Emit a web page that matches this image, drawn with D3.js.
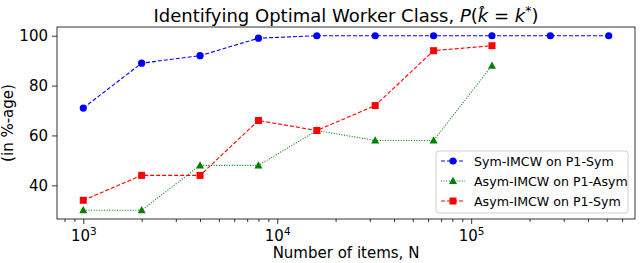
<!DOCTYPE html>
<html>
<head>
<meta charset="utf-8">
<script src="https://cdn.jsdelivr.net/npm/d3@7"></script>
<style>
  body { margin: 0; background: #fff; }
  text { font-family: "DejaVu Sans", sans-serif; fill: #000; }
</style>
</head>
<body>
<div class="chart"></div>
<script>
// number of items N (powers of two from 1000)
const items = [1000, 2000, 4000, 8000, 16000, 32000, 64000, 128000, 256000, 512000]
// P(k-hat = k*) in %-age
const symOnSym = [71, 89, 92, 99, 100, 100, 100, 100, 100, 100]
const asymOnAsym = [30, 30, 48, 48, 62, 58, 58, 88]
const asymOnSym = [34, 44, 44, 66, 62, 72, 94, 96]
const yTicks = [40, 60, 80, 100]
const xMajor = [1e3, 1e4, 1e5]

const seriesNames = ["Sym-IMCW on P1-Sym", "Asym-IMCW on P1-Asym", "Asym-IMCW on P1-Sym"]

const width = 640
const height = 263
const margin = { top: 27, right: 5, bottom: 44, left: 57 }

const series = [
  { name: seriesNames[0], values: symOnSym, color: "#0000ff", dash: "4,2", marker: "circle" },
  { name: seriesNames[1], values: asymOnAsym, color: "#008000", dash: "1,1.6", marker: "triangle" },
  { name: seriesNames[2], values: asymOnSym, color: "#ff0000", dash: "4,2", marker: "square" },
]

const svg = d3
  .select(".chart")
  .append("svg")
  .attr("width", width)
  .attr("height", height)

// log x with 5% padding in log space, like matplotlib
const lx = d3.extent(items).map(Math.log10)
const padX = (lx[1] - lx[0]) * 0.05
const x = d3
  .scaleLog()
  .domain([Math.pow(10, lx[0] - padX), Math.pow(10, lx[1] + padX)])
  .range([margin.left, width - margin.right])

const allY = symOnSym.concat(asymOnAsym, asymOnSym)
const ly = d3.extent(allY)
const padY = (ly[1] - ly[0]) * 0.05
const y = d3
  .scaleLinear()
  .domain([ly[0] - padY, ly[1] + padY])
  .range([height - margin.bottom, margin.top])

// minor ticks on the log axis
const minor = []
for (let e = 2; e <= 5; e++) {
  for (let m = 2; m <= 9; m++) {
    const v = m * Math.pow(10, e)
    if (v > x.domain()[0] && v < x.domain()[1]) minor.push(v)
  }
}

const xAxisMinor = d3.axisBottom(x).tickValues(minor).tickSize(3).tickFormat("")
svg
  .append("g")
  .attr("transform", `translate(0, ${height - margin.bottom})`)
  .call(xAxisMinor)
  .call((g) => g.select(".domain").remove())
  .call((g) => g.selectAll("line").attr("stroke", "#000").attr("stroke-width", 0.8))

const xAxis = d3.axisBottom(x).tickValues(xMajor).tickSize(5).tickPadding(4).tickFormat("")
const gx = svg
  .append("g")
  .attr("transform", `translate(0, ${height - margin.bottom})`)
  .call(xAxis)
gx.select(".domain").remove()
gx.selectAll("line").attr("stroke", "#000").attr("stroke-width", 0.8)
// 10^n labels
gx.selectAll(".tick")
  .append("text")
  .attr("y", 22)
  .attr("text-anchor", "middle")
  .attr("font-size", 15)
  .each(function (d) {
    const t = d3.select(this)
    t.append("tspan").text("10")
    t.append("tspan").attr("font-size", 10.5).attr("dy", -6).text(Math.round(Math.log10(d)))
  })

const yAxis = d3.axisLeft(y).tickValues(yTicks).tickSize(5).tickPadding(4)
const gy = svg.append("g").attr("transform", `translate(${margin.left}, 0)`).call(yAxis)
gy.select(".domain").remove()
gy.selectAll("line").attr("stroke", "#000").attr("stroke-width", 0.8)
gy.selectAll("text").attr("font-size", 15).attr("font-family", "DejaVu Sans")

// frame
svg
  .append("rect")
  .attr("x", margin.left)
  .attr("y", margin.top)
  .attr("width", width - margin.left - margin.right)
  .attr("height", height - margin.top - margin.bottom)
  .attr("fill", "none")
  .attr("stroke", "#000")
  .attr("stroke-width", 0.8)

function drawMarker(g, type, color) {
  if (type === "circle") {
    g.append("circle").attr("r", 3.6).attr("fill", color)
  } else if (type === "square") {
    g.append("rect").attr("x", -3.5).attr("y", -3.5).attr("width", 7).attr("height", 7).attr("fill", color)
  } else {
    g.append("path").attr("d", "M0,-4.2L4,3L-4,3Z").attr("fill", color)
  }
}

const line = d3
  .line()
  .x((d, i) => x(items[i]))
  .y((d) => y(d))

series.forEach((s) => {
  const g = svg.append("g")
  g.append("path")
    .datum(s.values)
    .attr("d", line)
    .attr("fill", "none")
    .attr("stroke", s.color)
    .attr("stroke-width", 1.1)
    .attr("stroke-dasharray", s.dash)
  g.selectAll("g.pt")
    .data(s.values)
    .join("g")
    .attr("class", "pt")
    .attr("transform", (d, i) => `translate(${x(items[i])}, ${y(d)})`)
    .each(function () {
      drawMarker(d3.select(this), s.marker, s.color)
    })
})

// legend, lower right
const legend = svg.append("g").attr("transform", "translate(436, 151)")
legend
  .append("rect")
  .attr("width", 192)
  .attr("height", 62)
  .attr("rx", 3)
  .attr("fill", "#fff")
  .attr("fill-opacity", 0.8)
  .attr("stroke", "#d0d0d0")
  .attr("stroke-width", 1)
series.forEach((s, i) => {
  const row = legend.append("g").attr("transform", `translate(0, ${10 + i * 20})`)
  row.append("line")
    .attr("x1", 5)
    .attr("x2", 29)
    .attr("stroke", s.color)
    .attr("stroke-width", 1.1)
    .attr("stroke-dasharray", s.dash)
  const m = row.append("g").attr("transform", "translate(17, 0)")
  drawMarker(m, s.marker, s.color)
  row.append("text")
    .attr("x", 38)
    .attr("y", 4.6)
    .attr("font-size", 12.6)
    .text(s.name)
})

// title
const title = svg
  .append("text")
  .attr("x", (margin.left + width - margin.right) / 2)
  .attr("y", 22)
  .attr("text-anchor", "middle")
  .attr("font-size", 18)
title.append("tspan").text("Identifying Optimal Worker Class, ")
title.append("tspan").attr("font-style", "italic").text("P")
title.append("tspan").text("(")
title.append("tspan").attr("font-style", "italic").text("k\u0302")
title.append("tspan").text(" = ")
title.append("tspan").attr("font-style", "italic").text("k")
title.append("tspan").attr("font-size", 12.5).attr("dy", -7).text("*")
title.append("tspan").attr("dy", 7).text(")")

// axis labels
svg
  .append("text")
  .attr("x", (margin.left + width - margin.right) / 2)
  .attr("y", 258)
  .attr("text-anchor", "middle")
  .attr("font-size", 15)
  .text("Number of items, N")

svg
  .append("text")
  .attr("transform", `translate(13, ${(margin.top + height - margin.bottom) / 2}) rotate(-90)`)
  .attr("text-anchor", "middle")
  .attr("font-size", 15)
  .text("(in %-age)")
</script>
</body>
</html>
